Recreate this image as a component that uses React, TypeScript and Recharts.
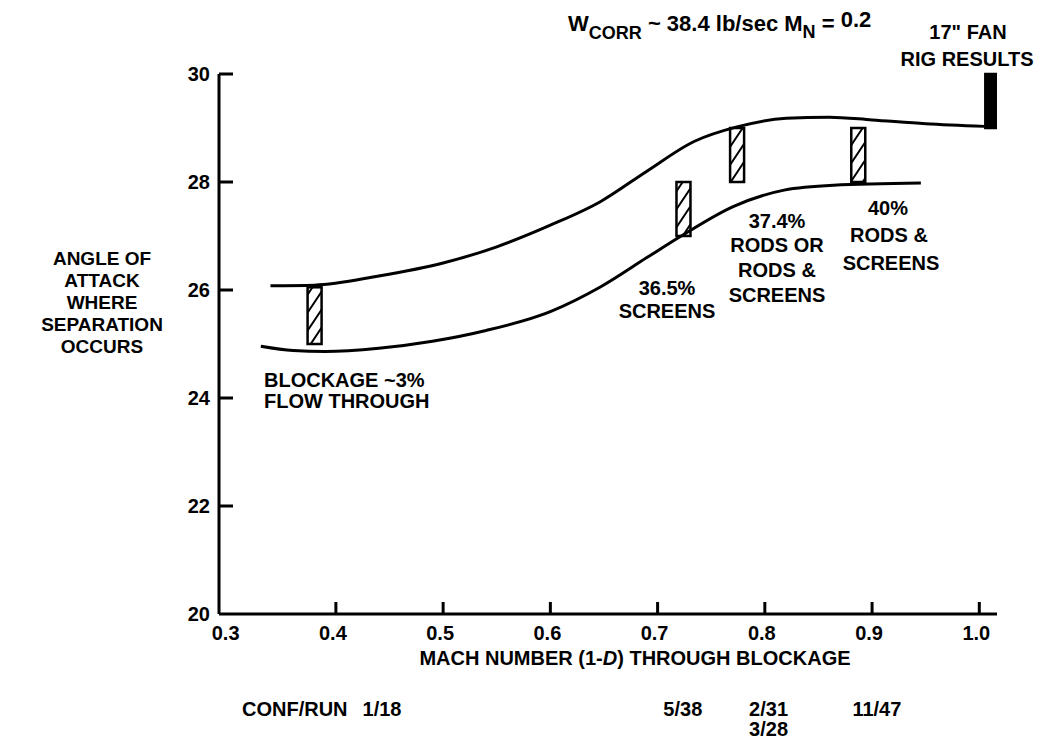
import React from 'react';
import { ComposedChart, XAxis, YAxis, Line, Bar } from 'recharts';

const FONT = '"Liberation Sans", Arial, Helvetica, sans-serif';

// axis ticks
const machTicks = [0.3, 0.4, 0.5, 0.6, 0.7, 0.8, 0.9, 1.0];
const angleTicks = [20, 22, 24, 26, 28, 30];

// upper boundary of the separation band
const upperMach = [0.339, 0.38, 0.44, 0.5, 0.55, 0.6, 0.647, 0.69, 0.734, 0.774, 0.82, 0.86, 0.9, 0.95, 1.005];
const upperAngle = [26.08, 26.09, 26.26, 26.5, 26.8, 27.2, 27.64, 28.2, 28.75, 29.02, 29.18, 29.2, 29.15, 29.08, 29.03];

// lower boundary
const lowerMach = [0.33, 0.36, 0.39, 0.44, 0.49, 0.54, 0.6, 0.647, 0.69, 0.722, 0.771, 0.818, 0.864, 0.9455];
const lowerAngle = [24.96, 24.88, 24.86, 24.92, 25.05, 25.25, 25.6, 26.06, 26.6, 27.0, 27.55, 27.85, 27.94, 27.98];

// measured separation ranges (hatched) and the 17" fan rig result (solid)
const rangeMach = [0.38, 0.724, 0.774, 0.887, 1.012];
const rangeLow = [25.0, 27.0, 28.0, 28.0, 29.0];
const rangeHigh = [26.05, 28.0, 29.0, 29.0, 30.0];
const rangeSolid = [false, false, false, false, true];

// configuration / run numbers listed under the axis
const runMach = [0.443, 0.7235, 0.8035, 0.9045];
const runLabels = [['1/18'], ['5/38'], ['2/31', '3/28'], ['11/47']];

const upperData = upperMach.map((x, i) => ({ x, y: upperAngle[i] }));
const lowerData = lowerMach.map((x, i) => ({ x, y: lowerAngle[i] }));
const rangeData = rangeMach.map((x, i) => ({ x, range: [rangeLow[i], rangeHigh[i]] }));

const BAR_W = 14;

const txt = { fontFamily: FONT, fontWeight: 700, fontSize: 20, fill: '#000' } as const;

const AngleTick = (props: any) => {
  const { x, y, payload } = props;
  const axisX = x + 9;
  return (
    <g>
      <text x={x} y={y} dy={7} textAnchor="end" style={txt}>
        {payload.value}
      </text>
      {payload.value > 20 && (
        <line x1={axisX} x2={axisX + 14} y1={y} y2={y} stroke="#000" strokeWidth={3} />
      )}
    </g>
  );
};

const MachTick = (props: any) => {
  const { x, y, payload } = props;
  const axisY = y - 12;
  return (
    <g>
      {payload.value > 0.35 && (
        <line x1={x} x2={x} y1={axisY} y2={axisY - 12} stroke="#000" strokeWidth={3} />
      )}
      <text x={x - 3} y={y} dy={14} textAnchor="middle" style={txt}>
        {payload.value.toFixed(1)}
      </text>
    </g>
  );
};

const RunTick = (props: any) => {
  const { x, y, payload } = props;
  const lines = runLabels[runMach.indexOf(payload.value)] || [];
  return (
    <text x={x} y={y} textAnchor="middle" style={txt}>
      {lines.map((s, i) => (
        <tspan key={s} x={x} dy={i === 0 ? 42 : 20}>
          {s}
        </tspan>
      ))}
    </text>
  );
};

// numeric x axis gives the bars no band width, so draw them centred on x
const RangeBar = (props: any) => {
  const { x, y, width, height, index } = props;
  const cx = x + (width || 0) / 2;
  const top = height < 0 ? y + height : y;
  return (
    <rect
      x={cx - BAR_W / 2}
      y={top}
      width={BAR_W}
      height={Math.abs(height)}
      fill={rangeSolid[index] ? '#000' : 'url(#hatch)'}
      stroke="#000"
      strokeWidth={2.5}
    />
  );
};

export default function App() {
  return (
    <div style={{ position: 'absolute', left: 0, top: 0, width: 1039, height: 739, background: '#fff' }}>
      <ComposedChart
        width={1039}
        height={739}
        data={rangeData}
        margin={{ top: 74, right: 42, left: 0, bottom: 0 }}
      >
        <defs>
          <pattern id="hatch" patternUnits="userSpaceOnUse" width={12} height={18}>
            <rect width={12} height={18} fill="#fff" />
            <path d="M0,18 L12,0 M-3,4.5 L3,-4.5 M9,22.5 L15,13.5" stroke="#000" strokeWidth={2} />
          </pattern>
        </defs>
        <XAxis
          dataKey="x"
          type="number"
          domain={[0.291, 1.0165]}
          allowDataOverflow
          ticks={machTicks}
          interval={0}
          height={60}
          tickSize={0}
          tickMargin={12}
          tick={<MachTick />}
          axisLine={{ stroke: '#000', strokeWidth: 3 }}
        />
        <XAxis
          xAxisId="run"
          dataKey="x"
          type="number"
          domain={[0.291, 1.0165]}
          allowDataOverflow
          ticks={runMach}
          interval={0}
          height={65}
          tickSize={0}
          tickMargin={0}
          tick={<RunTick />}
          axisLine={false}
          tickLine={false}
        />
        <YAxis
          type="number"
          domain={[20, 30]}
          ticks={angleTicks}
          interval={0}
          width={219}
          tickSize={0}
          tickMargin={9}
          tick={<AngleTick />}
          axisLine={{ stroke: '#000', strokeWidth: 3 }}
        />
        <Bar dataKey="range" shape={<RangeBar />} isAnimationActive={false} />
        <Line
          data={upperData}
          dataKey="y"
          type="monotone"
          stroke="#000"
          strokeWidth={3}
          dot={false}
          isAnimationActive={false}
        />
        <Line
          data={lowerData}
          dataKey="y"
          type="monotone"
          stroke="#000"
          strokeWidth={3}
          dot={false}
          isAnimationActive={false}
        />
      </ComposedChart>

      <svg
        width={1039}
        height={739}
        style={{ position: 'absolute', left: 0, top: 0, pointerEvents: 'none' }}
      >
        <text x={568} y={31} style={{ ...txt, fontSize: 22 }}>
          W
          <tspan dy={8} fontSize={18}>CORR</tspan>
          <tspan dy={-8}> ~ 38.4 lb/sec M</tspan>
          <tspan dy={7} fontSize={18}>N</tspan>
          <tspan dy={-7}> = </tspan>
          <tspan dy={-4}>0.2</tspan>
        </text>

        <text x={968} y={39} textAnchor="middle" style={txt}>17" FAN</text>
        <text x={967} y={66} textAnchor="middle" style={txt}>RIG RESULTS</text>

        <text textAnchor="middle" style={{ ...txt, fontSize: 19 }}>
          {['ANGLE OF', 'ATTACK', 'WHERE', 'SEPARATION', 'OCCURS'].map((s, i) => (
            <tspan key={s} x={102} y={265 + i * 22}>{s}</tspan>
          ))}
        </text>

        <text style={txt}>
          <tspan x={264} y={387}>BLOCKAGE ~3%</tspan>
          <tspan x={264} y={408}>FLOW THROUGH</tspan>
        </text>

        <text textAnchor="middle" style={txt}>
          <tspan x={667} y={295}>36.5%</tspan>
          <tspan x={667} y={318}>SCREENS</tspan>
        </text>

        <text textAnchor="middle" style={txt}>
          <tspan x={777} y={228}>37.4%</tspan>
          <tspan x={777} y={252}>RODS OR</tspan>
          <tspan x={777} y={277}>RODS &amp;</tspan>
          <tspan x={777} y={302}>SCREENS</tspan>
        </text>

        <text textAnchor="middle" style={txt}>
          <tspan x={888} y={215}>40%</tspan>
          <tspan x={889} y={242}>RODS &amp;</tspan>
          <tspan x={891} y={270}>SCREENS</tspan>
        </text>

        <text x={635} y={665} textAnchor="middle" style={txt}>
          MACH NUMBER (1-<tspan fontStyle="italic">D</tspan>) THROUGH BLOCKAGE
        </text>

        <text x={242} y={716} style={txt}>CONF/RUN</text>
      </svg>
    </div>
  );
}
